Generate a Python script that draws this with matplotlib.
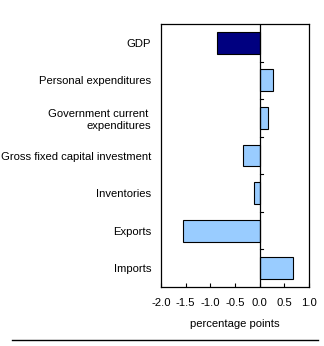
import matplotlib
matplotlib.use("Agg")
import matplotlib.pyplot as plt
from matplotlib.lines import Line2D
import numpy as np

plt.rcParams['font.family'] = ['Liberation Sans', 'DejaVu Sans']

categories = ["GDP", "Personal expenditures", "Government current \nexpenditures",
              "Gross fixed capital investment", "Inventories", "Exports", "Imports"]
values = [-0.86, 0.27, 0.16, -0.33, -0.105, -1.55, 0.67]
colors = ["#000080"] + ["#99CCFF"] * 6
xticks = [-2.0, -1.5, -1.0, -0.5, 0.0, 0.5, 1.0]
xticklabels = ["-2.0", "-1.5", "-1.0", "-0.5", "0.0", "0.5", "1.0"]

W, H = 324, 346
fs = 8.1
fig = plt.figure(figsize=(W / 100, H / 100), dpi=100)
ax = fig.add_axes([161 / W, 1 - 287 / H, (309 - 161) / W, (287 - 24) / H])

y = np.arange(len(categories))
ax.barh(y, values, height=0.585, color=colors, edgecolor="black", linewidth=0.8, zorder=2)
ax.set_ylim(len(categories) - 0.5, -0.5)
ax.set_xlim(-2.0, 1.0)
ax.axvline(0, color="black", linewidth=0.9, zorder=3)
for b in y[:-1] + 0.5:
    ax.plot([0, 0.065], [b, b], color="black", linewidth=0.8, zorder=3)

ax.set_yticks(y)
ax.set_yticklabels(categories, fontsize=fs)
ax.tick_params(axis="y", length=0, pad=7)
ax.set_xticks(xticks)
ax.set_xticklabels(xticklabels, fontsize=fs)
ax.tick_params(axis="x", direction="in", length=3, width=0.8, pad=8)
ax.set_xlabel("percentage points", fontsize=fs, labelpad=8)
for s in ax.spines.values():
    s.set_linewidth(0.9)

fig.add_artist(Line2D([12 / W, 318 / W], [1 - 340 / H, 1 - 340 / H], color="black", linewidth=1.0))
fig.savefig("out.png", dpi=100)
